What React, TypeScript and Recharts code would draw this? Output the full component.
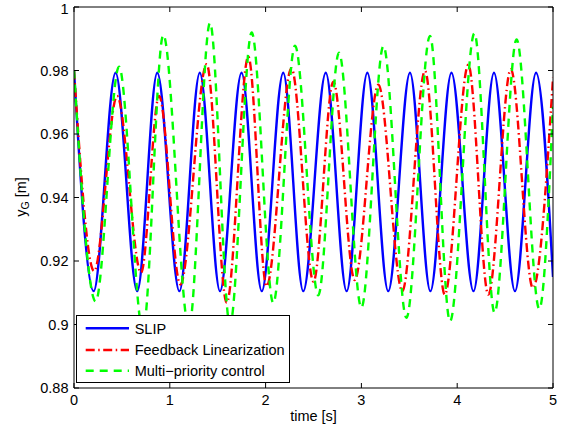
import React from 'react';
import { LineChart, Line, XAxis, YAxis, Legend } from 'recharts';

// SLIP (blue, solid): extremes
const slipTime = [0, 0.205, 0.434, 0.66, 0.869, 1.1, 1.313, 1.524, 1.749, 1.96, 2.184, 2.393, 2.628, 2.846, 3.062, 3.28, 3.507, 3.72, 3.94, 4.17, 4.384, 4.603, 4.823, 5.0];
const slipValue = [0.98, 0.9105, 0.9793, 0.9105, 0.9793, 0.9105, 0.9793, 0.9105, 0.9793, 0.9105, 0.9793, 0.9105, 0.9793, 0.9105, 0.9793, 0.9105, 0.9793, 0.9105, 0.9793, 0.9105, 0.9793, 0.9105, 0.9793, 0.915];

// Feedback Linearization (red, dash-dot)
const fbTime = [0, 0.21, 0.45, 0.7, 0.888, 1.11, 1.385, 1.594, 1.82, 2.01, 2.27, 2.5, 2.707, 2.93, 3.177, 3.427, 3.664, 3.87, 4.116, 4.325, 4.56, 4.79, 5.0];
const fbValue = [0.98, 0.9168, 0.972, 0.9163, 0.972, 0.9126, 0.982, 0.9068, 0.9844, 0.912, 0.9807, 0.9135, 0.9765, 0.914, 0.9755, 0.9105, 0.9799, 0.9094, 0.9818, 0.9094, 0.9804, 0.9115, 0.9777];

// Multi-priority control (green, dashed)
const mpTime = [0, 0.226, 0.47, 0.72, 0.932, 1.2, 1.42, 1.628, 1.855, 2.08, 2.307, 2.55, 2.766, 3.0, 3.23, 3.47, 3.716, 3.925, 4.18, 4.39, 4.62, 4.857, 5.0];
const mpValue = [0.98, 0.9073, 0.9812, 0.898, 0.9912, 0.899, 0.995, 0.9, 0.992, 0.9068, 0.9878, 0.9092, 0.9856, 0.9053, 0.9877, 0.9021, 0.9909, 0.901, 0.9917, 0.9037, 0.9898, 0.9049, 0.9686];

const xTicks = [0, 1, 2, 3, 4, 5];
const yTicks = [0.88, 0.9, 0.92, 0.94, 0.96, 0.98, 1];

const seriesNames = ['SLIP', 'Feedback Linearization', 'Multi\u2212priority control'];
const seriesColors = ['#0000ff', '#ff0000', '#00ff00'];
const seriesDash = ['', '9 3.5 1.5 3.5', '8 6'];

const toData = (ts: number[], vs: number[]) => ts.map((t, i) => ({ t, y: vs[i] }));
const slipData = toData(slipTime, slipValue);
const fbData = toData(fbTime, fbValue);
const mpData = toData(mpTime, mpValue);

const FONT = '"Liberation Sans", Arial, Helvetica, sans-serif';
const FS = 14.5;

const LegendBox = () => {
  const rows = [13.3, 35, 55.7];
  return (
    <svg width={216} height={70} style={{ display: 'block', overflow: 'visible' }}>
      <rect x={0.5} y={0.5} width={213} height={67} fill="#fff" stroke="#000" strokeWidth={1} />
      {seriesNames.map((name, i) => (
        <g key={name}>
          <line x1={9.7} x2={53} y1={rows[i]} y2={rows[i]} stroke={seriesColors[i]} strokeWidth={2.4}
            strokeDasharray={seriesDash[i] || undefined} />
          <text x={58.7} y={rows[i]} dy="0.36em" fontFamily={FONT} fontSize={FS} fill="#000">{name}</text>
        </g>
      ))}
    </svg>
  );
};

const YLabel = () => (
  <text x={26} y={197} transform="rotate(-90, 26, 197)" textAnchor="middle" fontFamily={FONT} fontSize={FS} fill="#000">
    <tspan>y</tspan>
    <tspan fontSize={10.5} dy={3}>G</tspan>
    <tspan dy={-3}> [m]</tspan>
  </text>
);

const XLabel = () => (
  <text x={313.5} y={421} textAnchor="middle" fontFamily={FONT} fontSize={FS} fill="#000">time [s]</text>
);

export default function App() {
  const tickStyle = { fill: '#000', fontSize: FS, fontFamily: FONT };
  return (
    <div style={{ position: 'absolute', left: 0, top: 0, width: 567, height: 430, background: '#fff' }}>
      <LineChart width={567} height={430} margin={{ top: 0, right: 0, bottom: 0, left: 0 }}>
        <XAxis xAxisId="b" dataKey="t" type="number" domain={[0, 5]} ticks={xTicks} orientation="bottom" height={42}
          axisLine={{ stroke: '#000', strokeWidth: 1 }} tickLine={{ stroke: '#000' }} tickSize={-5} tickMargin={12}
          tick={tickStyle} allowDataOverflow label={() => <XLabel />} />
        <XAxis xAxisId="t" dataKey="t" type="number" domain={[0, 5]} ticks={xTicks} orientation="top" height={7}
          axisLine={{ stroke: '#000', strokeWidth: 1 }} tickLine={{ stroke: '#000' }} tickSize={-5}
          tickFormatter={() => ''} allowDataOverflow />
        <YAxis yAxisId="l" type="number" domain={[0.88, 1]} ticks={yTicks} orientation="left" width={74}
          axisLine={{ stroke: '#000', strokeWidth: 1 }} tickLine={{ stroke: '#000' }} tickSize={-5} tickMargin={10.5}
          tick={tickStyle} allowDataOverflow label={() => <YLabel />} />
        <YAxis yAxisId="r" type="number" domain={[0.88, 1]} ticks={yTicks} orientation="right" width={14}
          axisLine={{ stroke: '#000', strokeWidth: 1 }} tickLine={{ stroke: '#000' }} tickSize={-5}
          tickFormatter={() => ''} allowDataOverflow />
        <Line xAxisId="b" yAxisId="l" data={slipData} dataKey="y" type="monotone" stroke={seriesColors[0]}
          strokeWidth={2.4} dot={false} activeDot={false} isAnimationActive={false} />
        <Line xAxisId="b" yAxisId="l" data={fbData} dataKey="y" type="monotone" stroke={seriesColors[1]}
          strokeWidth={2.4} strokeDasharray={seriesDash[1]} dot={false} activeDot={false} isAnimationActive={false} />
        <Line xAxisId="t" yAxisId="r" data={mpData} dataKey="y" type="monotone" stroke={seriesColors[2]}
          strokeWidth={2.4} strokeDasharray={seriesDash[2]} dot={false} activeDot={false} isAnimationActive={false} />
        <Legend layout="horizontal" verticalAlign="middle" align="center" content={() => <LegendBox />}
          wrapperStyle={{ position: 'absolute', left: 76, top: 315, width: 216, height: 70 }} />
      </LineChart>
    </div>
  );
}
